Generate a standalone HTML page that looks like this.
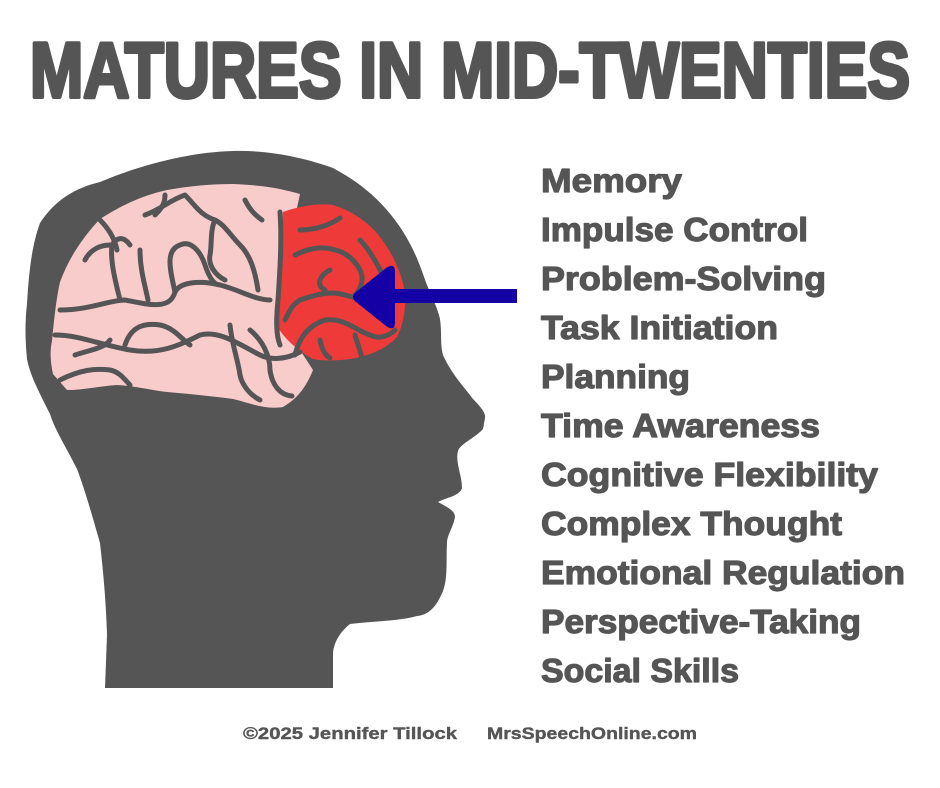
<!DOCTYPE html>
<html><head><meta charset="utf-8"><style>
html,body{margin:0;padding:0;background:#fff;}
svg{display:block;}
text{font-family:"Liberation Sans",sans-serif;font-weight:bold;fill:#555;stroke:#555;stroke-linejoin:round;}
</style></head><body>
<svg width="940" height="788" viewBox="0 0 940 788" xmlns="http://www.w3.org/2000/svg">
<rect width="940" height="788" fill="#fff"/>
<text x="30" y="97" font-size="78" stroke-width="4" textLength="880" lengthAdjust="spacingAndGlyphs">MATURES IN MID-TWENTIES</text>

<path fill="#555" d="M105,688 L107,635 C106,600 103,570 100,543 C92,515 85,490 77,469 C65,445 55,430 50,414 C38,390 30,375 27,359 C25,340 25,320 27,304 C29,270 32,245 40,223 C55,200 75,188 100,182 C140,165 190,152 233,151 C270,150 305,158 333,168 C365,185 385,205 400,227 C412,245 418,260 423,274 C430,295 437,305 440,319 C442,333 440,345 443,355 C452,375 465,388 473,399 C482,408 486,414 485,418 C484,424 483,429 483,429 C475,438 460,444 458,451 C455,462 462,475 462,488 C460,496 445,498 438,502 C445,506 455,510 455,517 C453,528 447,535 447,543 C446,560 448,578 443,591 C436,608 428,615 417,616 C400,621 375,621 350,624 C340,632 334,642 333,653 L333,688 Z"/>

<path fill="#f9cccc" d="M53,374 C50,360 50,350 52,341 C54,320 56,300 60,282 C70,255 85,235 100,219 C125,203 145,195 167,190 C190,186 210,184 233,184 C260,185 280,188 300,194 L290,240 L280,300 L300,350 L313,370 C305,390 295,400 283,407 C265,410 250,403 233,399 C210,396 190,394 167,392 C150,390 135,386 117,385 C100,386 85,390 67,390 Z"/>
<path fill="#ef3a3a" d="M283,212 C300,206 318,203 333,205 C355,212 372,225 383,241 C395,258 402,275 405,293 C406,310 403,325 397,337 C385,350 368,356 350,359 C335,361 322,361 313,359 C300,352 285,340 277,326 C276,305 277,285 280,267 Z"/>

<g fill="none" stroke="#555" stroke-width="5" stroke-linecap="round" stroke-linejoin="round">
<path d="M280,212 C282,240 280,270 278,300 C276,320 276,335 280,345"/>
<path d="M55,335 C80,335 100,345 130,350 C160,355 180,345 200,335 C220,330 240,345 260,355 C270,360 285,360 300,352"/>
<path d="M60,310 C90,310 110,300 125,300 C150,305 170,310 175,292 C180,282 200,280 220,285 C240,290 255,300 270,300"/>
<path d="M175,292 C170,270 165,250 180,245 C190,240 200,250 205,265 C210,280 215,285 220,285"/>
<path d="M120,300 C115,280 110,260 112,245 C118,235 125,238 130,245"/>
<path d="M85,260 C90,250 100,245 110,245"/>
<path d="M100,220 C110,230 115,240 117,250"/>
<path d="M140,250 C140,270 145,285 148,300"/>
<path d="M145,215 C160,210 170,200 185,195 C195,205 200,215 215,220 C225,225 230,235 240,245 C250,255 255,270 258,290"/>
<path d="M215,220 C210,230 212,245 210,255 C208,265 215,275 225,280"/>
<path d="M245,200 C250,210 255,215 262,220"/>
<path d="M165,195 C165,205 160,210 155,215"/>
<path d="M60,380 C80,370 95,368 110,370 C120,372 125,380 130,385"/>
<path d="M75,355 C90,350 105,348 110,340"/>
<path d="M125,345 C130,330 140,322 160,325 C175,328 182,340 190,345"/>
<path d="M230,325 C232,345 238,360 240,375 C242,385 250,395 260,400"/>
<path d="M250,330 C262,340 270,355 270,370 C272,385 280,395 292,396"/>
<path d="M295,355 C300,335 310,325 325,320 C345,318 355,330 370,335 C380,340 390,335 395,330"/>
<path d="M300,300 C315,295 330,290 345,295 C360,300 375,300 390,305"/>
<path d="M295,255 C305,250 320,245 335,250 C345,252 355,260 360,270 C365,280 360,290 355,295"/>
<path d="M300,230 C315,230 330,225 340,218"/>
<path d="M330,270 C320,275 315,285 325,290"/>
<path d="M360,240 C370,250 378,265 385,280"/>
<path d="M320,340 C322,350 325,355 330,358"/>
<path d="M355,335 C358,345 360,350 362,358"/>
<path d="M285,320 C290,310 292,305 300,300"/>
</g>

<path fill="#1500a6" d="M517,289 L395,289 L395,272 Q395,262 386,268 L356,292 Q350,297 356,302 L386,326 Q395,332 395,322 L395,303 L517,303 Z"/>

<g font-size="33" stroke-width="1.2">
<text x="541" y="192" textLength="141" lengthAdjust="spacingAndGlyphs">Memory</text>
<text x="541" y="241" textLength="267" lengthAdjust="spacingAndGlyphs">Impulse Control</text>
<text x="541" y="290" textLength="285" lengthAdjust="spacingAndGlyphs">Problem-Solving</text>
<text x="541" y="339" textLength="237" lengthAdjust="spacingAndGlyphs">Task Initiation</text>
<text x="541" y="388" textLength="149" lengthAdjust="spacingAndGlyphs">Planning</text>
<text x="541" y="437" textLength="279" lengthAdjust="spacingAndGlyphs">Time Awareness</text>
<text x="541" y="486" textLength="337" lengthAdjust="spacingAndGlyphs">Cognitive Flexibility</text>
<text x="541" y="535" textLength="301" lengthAdjust="spacingAndGlyphs">Complex Thought</text>
<text x="541" y="584" textLength="364" lengthAdjust="spacingAndGlyphs">Emotional Regulation</text>
<text x="541" y="633" textLength="320" lengthAdjust="spacingAndGlyphs">Perspective-Taking</text>
<text x="541" y="682" textLength="198" lengthAdjust="spacingAndGlyphs">Social Skills</text>
</g>
<g font-size="17" stroke-width="0.4">
<text x="243" y="739" textLength="214" lengthAdjust="spacingAndGlyphs">©2025 Jennifer Tillock</text>
<text x="487" y="739" textLength="210" lengthAdjust="spacingAndGlyphs">MrsSpeechOnline.com</text>
</g>
</svg>
</body></html>
